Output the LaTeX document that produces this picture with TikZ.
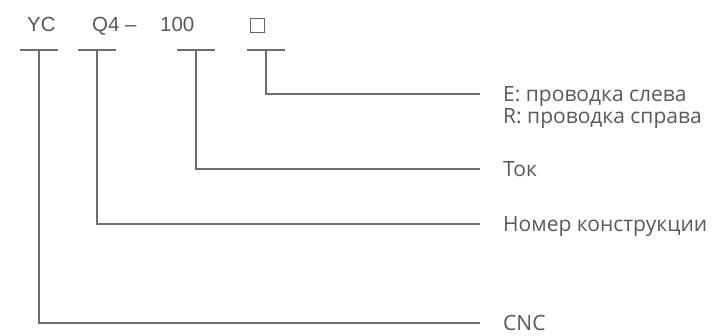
\documentclass[tikz,border=0pt]{standalone}
\usepackage{fontspec}
\setmainfont{Open Sans}
\newfontfamily\codefont{Liberation Sans}
\definecolor{leadgray}{HTML}{6E6E6E}
\definecolor{textgray}{HTML}{595959}
\begin{document}
\begin{tikzpicture}[x=1pt, y=1pt,
        lead/.style={draw=leadgray, line width=1.3pt},
        code/.style={font=\codefont\fontsize{20.5}{24}\selectfont, text=textgray, inner sep=0pt, anchor=base west},
        legend/.style={font=\fontsize{21}{24}\selectfont, text=textgray, inner sep=0pt, anchor=west, text height=15pt, text depth=0pt}]
        \useasboundingbox (0,0) rectangle (723,335);

        % 1. Type code along the top
        \node[code] (yc)  at (27,303)  {YC};
        \node[code] (q4)  at (92,303)  {Q4 –};
        \node[code] (cur) at (160,303) {100};
        \node[code, font=\codefont\fontsize{25}{28}\selectfont] (wir) at (250,301) {□};

        % 2. Short bars under each part of the code
        \coordinate (b1) at (39,285);
        \coordinate (b2) at (97,285);
        \coordinate (b3) at (196,285);
        \coordinate (b4) at (266,285);
        \foreach \b in {b1,b2,b3,b4}
            \draw[lead] ([xshift=-19pt]\b) -- ([xshift=19pt]\b);

        % 3. Meanings on the right
        \node[legend] (e)   at (503,241) {E: проводка слева};
        \node[legend] (r)   at (503,219) {R: проводка справа};
        \node[legend] (tok) at (503,166) {Ток};
        \node[legend] (nom) at (503,111) {Номер конструкции};
        \node[legend] (cnc) at (503,12)  {CNC};

        % 4. Leaders from the bars to the meanings
        \draw[lead] (b4) |- ([xshift=-23pt]e.west);
        \draw[lead] (b3) |- ([xshift=-23pt]tok.west);
        \draw[lead] (b2) |- ([xshift=-23pt]nom.west);
        \draw[lead] (b1) |- ([xshift=-23pt]cnc.west);
    \end{tikzpicture}
\end{document}
